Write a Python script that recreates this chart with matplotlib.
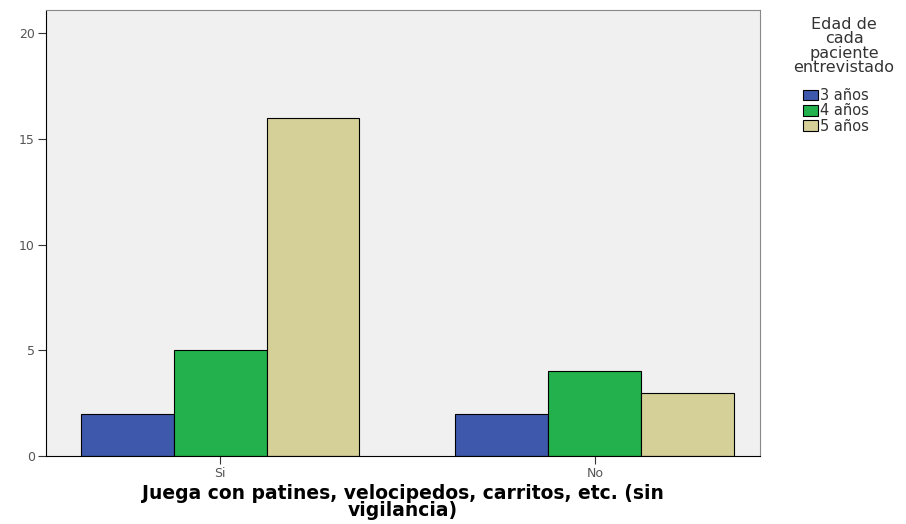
import numpy as np
import matplotlib
matplotlib.use("Agg")
import matplotlib.pyplot as plt

plt.rcParams['font.family'] = ['DejaVu Sans']

# Data
categories = ["Si", "No"]
series_names = ["3 años", "4 años", "5 años"]
values = {
    "3 años": [2, 2],
    "4 años": [5, 4],
    "5 años": [16, 3],
}
colors = ["#3e58ac", "#22b14c", "#d5cf98"]
legend_title = "Edad de\ncada\npaciente\nentrevistado"

fig = plt.figure(figsize=(9.06, 5.24), dpi=100)
ax = fig.add_axes([0.0508, 0.1298, 0.788, 0.851])
ax.set_facecolor("#f0f0f0")

x = np.arange(len(categories))
width = 0.248
for i, name in enumerate(series_names):
    ax.bar(x + (i - 1) * width, values[name], width, color=colors[i],
           edgecolor="black", linewidth=0.8, label=name, zorder=2)

ax.set_xlim(-0.464, 1.44)
ax.set_ylim(0, 21.1)
ax.set_yticks([0, 5, 10, 15, 20])
ax.set_xticks(x)
ax.set_xticklabels(categories)
ax.tick_params(axis="both", labelsize=9, labelcolor="#555555", color="#333333",
               length=6, pad=2)
for s in ["top", "right"]:
    ax.spines[s].set_color("#888888")
for s in ["left", "bottom"]:
    ax.spines[s].set_color("black")

ax.set_xlabel("Juega con patines, velocipedos, carritos, etc. (sin\nvigilancia)",
              fontsize=13.5, fontweight="bold", linespacing=0.88, labelpad=3)

# legend title drawn separately so the gap to the entries can be set
fig.text(844 / 906, 1 - 17 / 524, legend_title, ha="center", va="top",
         fontsize=11.5, linespacing=0.95, color="#333333", multialignment="center")

leg = fig.legend(loc="upper left", bbox_to_anchor=(803 / 906, 1 - 88 / 524),
                 frameon=False, fontsize=10.5, handlelength=1.0,
                 handleheight=0.75, handletextpad=0.2, labelspacing=0.02,
                 borderpad=0, borderaxespad=0)
for t in leg.get_texts():
    t.set_color("#333333")

fig.savefig("out.png", dpi=100)
